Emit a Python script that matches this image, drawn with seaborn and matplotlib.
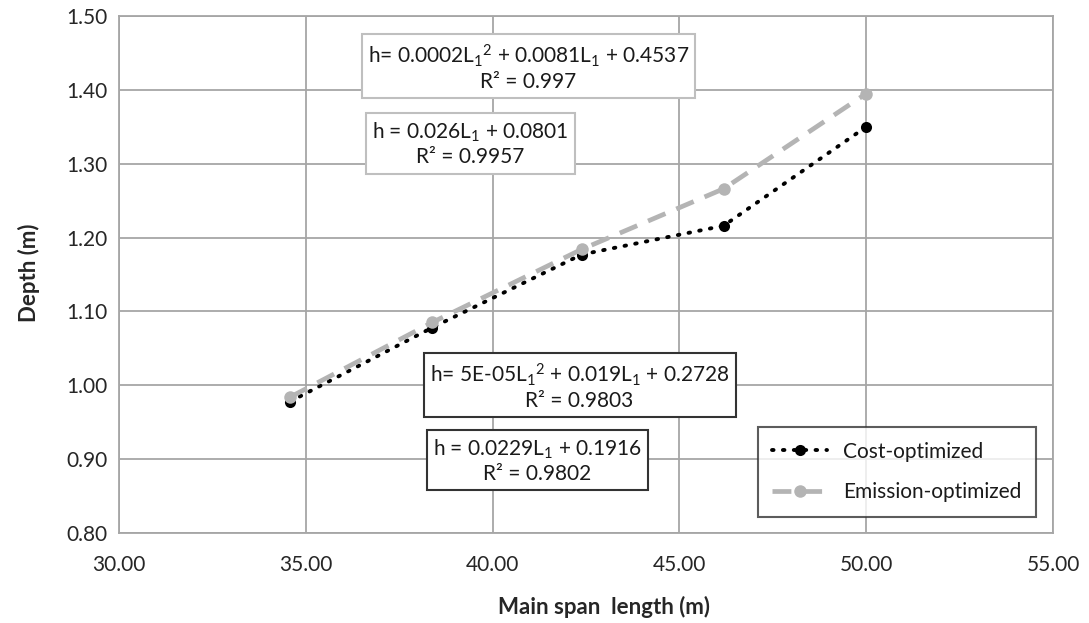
import matplotlib
matplotlib.use("Agg")
import matplotlib.pyplot as plt
import seaborn as sns

# main span length (m)
spans = [34.58, 38.38, 42.38, 46.18, 50.00]

# depth (m) for each design
cost_depth = [0.978, 1.078, 1.177, 1.216, 1.350]
emission_depth = [0.984, 1.085, 1.184, 1.266, 1.395]

x_ticks = [30, 35, 40, 45, 50, 55]
y_ticks = [0.80, 0.90, 1.00, 1.10, 1.20, 1.30, 1.40, 1.50]

# trendline equations shown on the chart
eq_emission_poly = "h= 0.0002L$_1$$^2$ + 0.0081L$_1$ + 0.4537\nR² = 0.997"
eq_emission_lin = "h = 0.026L$_1$ + 0.0801\nR² = 0.9957"
eq_cost_poly = "h= 5E-05L$_1$$^2$ + 0.019L$_1$ + 0.2728\nR² = 0.9803"
eq_cost_lin = "h = 0.0229L$_1$ + 0.1916\nR² = 0.9802"

sns.set_theme(style="whitegrid")
plt.rcParams['font.family'] = ['Lato', 'DejaVu Sans']
plt.rcParams['mathtext.fontset'] = 'custom'
plt.rcParams['mathtext.rm'] = 'Lato'
plt.rcParams['mathtext.it'] = 'Lato:italic'
plt.rcParams['mathtext.bf'] = 'Lato:bold'

GRID = '#a6a6a6'

fig, ax = plt.subplots(figsize=(10.89, 6.23), dpi=100)
fig.subplots_adjust(left=0.1093, right=0.967, top=0.9743, bottom=0.1445)

sns.lineplot(x=spans, y=cost_depth, ax=ax, color='black', linestyle=(0, (0.4, 2.4)),
             linewidth=2.8, dash_capstyle='round', marker='o', markersize=8,
             markeredgewidth=0, label='Cost-optimized')
sns.lineplot(x=spans, y=emission_depth, ax=ax, color='#b4b4b4', linestyle=(0, (4, 2.5)),
             linewidth=3.4, marker='o', markersize=9, markeredgewidth=0,
             label='Emission-optimized')

ax.set_xlim(30, 55)
ax.set_ylim(0.80, 1.50)
ax.set_xticks(x_ticks)
ax.set_yticks(y_ticks)
ax.set_xticklabels([f"{v:.2f}" for v in x_ticks])
ax.set_yticklabels([f"{v:.2f}" for v in y_ticks])
ax.tick_params(axis='x', labelsize=15, pad=16, colors='#262626', length=0)
ax.tick_params(axis='y', labelsize=15, pad=8, colors='#262626', length=0)

ax.grid(True, color=GRID, linewidth=1.3)
for s in ax.spines.values():
    s.set_color(GRID)
    s.set_linewidth(1.3)

ax.set_xlabel("Main span  length (m)", fontsize=16, fontweight='bold', color='#262626')
ax.set_ylabel("Depth (m)", fontsize=16, fontweight='bold', color='#262626')
ax.xaxis.set_label_coords(0.519, -0.122)
ax.yaxis.set_label_coords(-0.085, 0.503)

box_kw = dict(ha='center', va='center', multialignment='center', fontsize=15,
              transform=ax.transAxes, color='#1a1a1a', zorder=5)
ax.text(0.4384, 0.9014, eq_emission_poly,
        bbox=dict(boxstyle='square,pad=0.3', fc='white', ec='#bfbfbf', lw=1.5), **box_kw)
ax.text(0.3758, 0.7524, eq_emission_lin,
        bbox=dict(boxstyle='square,pad=0.3', fc='white', ec='#bfbfbf', lw=1.5), **box_kw)
ax.text(0.4931, 0.2843, eq_cost_poly,
        bbox=dict(boxstyle='square,pad=0.3', fc='white', ec='#333333', lw=1.5), **box_kw)
ax.text(0.4481, 0.1393, eq_cost_lin,
        bbox=dict(boxstyle='square,pad=0.3', fc='white', ec='#333333', lw=1.5), **box_kw)

leg = ax.legend(loc='lower right', bbox_to_anchor=(0.982, 0.031), fontsize=15,
                frameon=True, fancybox=False, handlelength=2.6, borderpad=0.7,
                labelspacing=1.0, borderaxespad=0)
leg.get_frame().set_edgecolor('#333333')
leg.get_frame().set_linewidth(1.5)
for t in leg.get_texts():
    t.set_color('#1a1a1a')

fig.savefig("out.png", dpi=100)
